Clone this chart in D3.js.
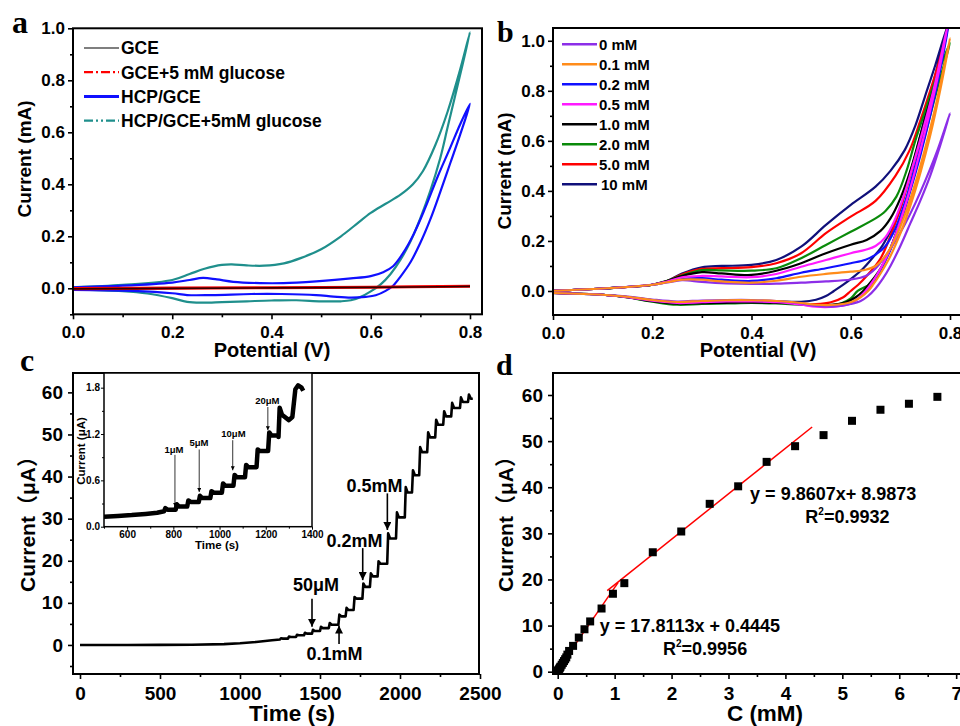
<!DOCTYPE html>
<html>
<head>
<meta charset="utf-8">
<script src="https://cdn.jsdelivr.net/npm/d3@7"></script>
<style>
  body { margin: 0; background: #fff; }
  svg text { font-family: "Liberation Sans", Arial, "Noto Sans CJK SC", sans-serif; font-weight: bold; fill: #000; }
  .letter { font-family: "Liberation Serif", "Times New Roman", serif !important; }
</style>
</head>
<body>
<svg id="fig" width="960" height="726"></svg>
<script>
// ---------- panel a: CV loops, [potential V, current mA] ----------
const gceLoop = [[0,-0.002],[0.2,0],[0.4,0.002],[0.6,0.004],[0.8,0.007],[0.6,0.003],[0.4,0.001],[0.2,-0.001],[0,-0.003]];
const gceGlucoseLoop = [[0,-0.001],[0.2,0.001],[0.4,0.002],[0.6,0.004],[0.8,0.008],[0.6,0.004],[0.4,0.002],[0.2,0],[0,-0.002]];
const hcpLoop = [[0,0.004],[0.1,0.01],[0.2,0.022],[0.235,0.032],[0.262,0.04],[0.29,0.034],[0.323,0.025],[0.377,0.02],[0.424,0.02],[0.49,0.027],[0.56,0.038],[0.6,0.047],[0.625,0.062],[0.645,0.085],[0.665,0.135],[0.687,0.21],[0.71,0.31],[0.735,0.43],[0.76,0.54],[0.78,0.63],[0.8,0.71],
  [0.78,0.59],[0.76,0.48],[0.74,0.37],[0.72,0.265],[0.7,0.175],[0.68,0.1],[0.66,0.045],[0.645,0.01],[0.63,-0.01],[0.61,-0.027],[0.59,-0.033],[0.56,-0.036],[0.525,-0.032],[0.49,-0.026],[0.42,-0.022],[0.36,-0.022],[0.28,-0.026],[0.23,-0.026],[0.2,-0.019],[0.12,-0.01],[0,-0.006]];
const hcpGlucoseLoop = [[0,0.004],[0.1,0.013],[0.2,0.032],[0.235,0.055],[0.265,0.075],[0.3,0.09],[0.32,0.092],[0.35,0.088],[0.385,0.087],[0.425,0.096],[0.46,0.117],[0.5,0.15],[0.54,0.2],[0.57,0.245],[0.6,0.29],[0.63,0.325],[0.66,0.36],[0.685,0.4],[0.705,0.45],[0.73,0.55],[0.755,0.68],[0.78,0.84],[0.8,0.985],
  [0.785,0.86],[0.77,0.74],[0.755,0.62],[0.74,0.5],[0.72,0.375],[0.7,0.27],[0.68,0.18],[0.66,0.11],[0.64,0.055],[0.62,0.015],[0.6,-0.012],[0.58,-0.033],[0.56,-0.046],[0.54,-0.05],[0.5,-0.05],[0.45,-0.046],[0.4,-0.047],[0.35,-0.05],[0.3,-0.053],[0.26,-0.055],[0.23,-0.052],[0.2,-0.038],[0.15,-0.02],[0.1,-0.011],[0,-0.004]];

// ---------- panel b: CV loops at each glucose concentration ----------
const bLabels = ['0 mM','0.1 mM','0.2 mM','0.5 mM','1.0 mM','2.0 mM','5.0 mM','10 mM'];
const bColors = ['#8c2ee8','#ff8c1a','#1010ff','#ff1aff','#000000','#0a8a0a','#ff0000','#10107a'];
const b0 = [[0,0.001],[0.1,0.01],[0.2,0.025],[0.23,0.034],[0.26,0.043],[0.3,0.036],[0.35,0.03],[0.4,0.028],[0.45,0.029],[0.5,0.033],[0.55,0.038],[0.6,0.046],[0.63,0.06],[0.65,0.09],[0.67,0.14],[0.69,0.2],[0.71,0.27],[0.73,0.35],[0.75,0.44],[0.775,0.564],[0.8,0.71],
  [0.78,0.58],[0.76,0.46],[0.74,0.36],[0.72,0.27],[0.7,0.18],[0.68,0.1],[0.665,0.05],[0.65,0.01],[0.635,-0.02],[0.62,-0.04],[0.6,-0.052],[0.57,-0.062],[0.53,-0.06],[0.5,-0.05],[0.45,-0.04],[0.4,-0.036],[0.35,-0.036],[0.3,-0.038],[0.25,-0.042],[0.2,-0.034],[0.15,-0.022],[0.1,-0.015],[0,-0.008]];
const b01 = [[0,0.001],[0.1,0.01],[0.2,0.025],[0.23,0.035],[0.26,0.045],[0.3,0.045],[0.34,0.038],[0.4,0.033],[0.45,0.041],[0.5,0.057],[0.55,0.068],[0.6,0.077],[0.63,0.085],[0.65,0.1],[0.67,0.14],[0.69,0.21],[0.71,0.31],[0.73,0.43],[0.75,0.57],[0.77,0.73],[0.8,1.01],
  [0.78,0.8],[0.76,0.62],[0.74,0.47],[0.72,0.34],[0.7,0.23],[0.68,0.14],[0.66,0.07],[0.645,0.025],[0.635,0],[0.62,-0.025],[0.6,-0.045],[0.57,-0.055],[0.53,-0.055],[0.5,-0.048],[0.45,-0.04],[0.4,-0.037],[0.35,-0.037],[0.3,-0.04],[0.25,-0.044],[0.2,-0.036],[0.15,-0.023],[0.1,-0.015],[0,-0.008]];
const b02 = [[0,0.001],[0.1,0.01],[0.2,0.025],[0.23,0.036],[0.26,0.048],[0.3,0.051],[0.34,0.045],[0.4,0.04],[0.45,0.051],[0.5,0.073],[0.55,0.091],[0.6,0.111],[0.63,0.125],[0.65,0.145],[0.67,0.18],[0.69,0.25],[0.71,0.36],[0.73,0.5],[0.75,0.64],[0.77,0.8],[0.797,1.06],
  [0.78,0.88],[0.76,0.7],[0.74,0.54],[0.72,0.4],[0.7,0.27],[0.68,0.165],[0.66,0.085],[0.645,0.035],[0.632,0],[0.615,-0.03],[0.6,-0.048],[0.57,-0.058],[0.53,-0.058],[0.5,-0.05],[0.45,-0.042],[0.4,-0.04],[0.35,-0.04],[0.3,-0.043],[0.25,-0.046],[0.2,-0.037],[0.15,-0.024],[0.1,-0.015],[0,-0.008]];
const b05 = [[0,0.001],[0.1,0.01],[0.2,0.025],[0.23,0.038],[0.26,0.055],[0.3,0.06],[0.34,0.058],[0.4,0.055],[0.45,0.068],[0.5,0.097],[0.55,0.124],[0.6,0.151],[0.63,0.165],[0.65,0.18],[0.67,0.215],[0.69,0.29],[0.71,0.4],[0.725,0.5],[0.745,0.64],[0.77,0.83],[0.795,1.06],
  [0.78,0.9],[0.76,0.72],[0.74,0.56],[0.72,0.41],[0.7,0.28],[0.68,0.17],[0.66,0.09],[0.645,0.04],[0.63,0],[0.615,-0.03],[0.6,-0.05],[0.57,-0.062],[0.53,-0.063],[0.5,-0.055],[0.45,-0.045],[0.4,-0.042],[0.35,-0.042],[0.3,-0.045],[0.25,-0.048],[0.2,-0.039],[0.15,-0.025],[0.1,-0.015],[0,-0.008]];
const b10 = [[0,0.001],[0.1,0.01],[0.2,0.025],[0.23,0.04],[0.26,0.06],[0.3,0.075],[0.34,0.07],[0.4,0.064],[0.45,0.081],[0.5,0.111],[0.55,0.151],[0.6,0.185],[0.632,0.204],[0.66,0.24],[0.68,0.29],[0.7,0.37],[0.72,0.48],[0.74,0.62],[0.76,0.76],[0.78,0.9],[0.795,1.06],
  [0.78,0.89],[0.76,0.72],[0.74,0.56],[0.72,0.41],[0.7,0.28],[0.68,0.17],[0.66,0.09],[0.64,0.035],[0.625,0],[0.61,-0.025],[0.59,-0.045],[0.56,-0.055],[0.52,-0.056],[0.48,-0.05],[0.43,-0.047],[0.38,-0.046],[0.33,-0.048],[0.28,-0.05],[0.24,-0.05],[0.2,-0.041],[0.15,-0.025],[0.1,-0.015],[0,-0.008]];
const b20 = [[0,0.001],[0.1,0.01],[0.2,0.025],[0.23,0.041],[0.26,0.062],[0.3,0.083],[0.34,0.082],[0.4,0.081],[0.45,0.091],[0.5,0.131],[0.55,0.184],[0.6,0.237],[0.65,0.29],[0.67,0.32],[0.692,0.377],[0.713,0.484],[0.73,0.6],[0.75,0.72],[0.77,0.84],[0.8,0.99],
  [0.78,0.85],[0.76,0.7],[0.74,0.55],[0.72,0.41],[0.7,0.28],[0.68,0.17],[0.66,0.085],[0.64,0.03],[0.614,0],[0.6,-0.03],[0.58,-0.05],[0.55,-0.058],[0.5,-0.055],[0.45,-0.05],[0.4,-0.048],[0.35,-0.05],[0.3,-0.052],[0.25,-0.055],[0.2,-0.043],[0.15,-0.026],[0.1,-0.015],[0,-0.008]];
const b50 = [[0,0.001],[0.1,0.01],[0.2,0.025],[0.23,0.04],[0.26,0.066],[0.3,0.088],[0.34,0.091],[0.4,0.095],[0.45,0.111],[0.5,0.151],[0.55,0.231],[0.6,0.297],[0.65,0.36],[0.69,0.46],[0.719,0.564],[0.74,0.68],[0.76,0.8],[0.78,0.93],[0.797,1.06],
  [0.78,0.91],[0.76,0.75],[0.74,0.6],[0.72,0.46],[0.7,0.33],[0.68,0.22],[0.66,0.13],[0.632,0.06],[0.615,0.025],[0.6,0],[0.585,-0.025],[0.56,-0.045],[0.53,-0.052],[0.5,-0.05],[0.45,-0.044],[0.4,-0.042],[0.35,-0.043],[0.3,-0.045],[0.25,-0.048],[0.2,-0.039],[0.15,-0.025],[0.1,-0.015],[0,-0.008]];
const b100 = [[0,0.001],[0.1,0.01],[0.2,0.025],[0.23,0.04],[0.26,0.07],[0.3,0.095],[0.34,0.1],[0.4,0.104],[0.45,0.124],[0.5,0.177],[0.55,0.264],[0.6,0.344],[0.65,0.417],[0.68,0.48],[0.709,0.564],[0.73,0.66],[0.75,0.78],[0.77,0.9],[0.795,1.06],
  [0.77,0.86],[0.75,0.7],[0.733,0.564],[0.715,0.44],[0.7,0.33],[0.68,0.24],[0.66,0.17],[0.645,0.135],[0.625,0.09],[0.605,0.055],[0.585,0.025],[0.566,0],[0.55,-0.02],[0.53,-0.035],[0.5,-0.043],[0.45,-0.041],[0.4,-0.04],[0.35,-0.04],[0.3,-0.043],[0.25,-0.046],[0.2,-0.037],[0.15,-0.024],[0.1,-0.015],[0,-0.008]];
const bLoops = [b0, b01, b02, b05, b10, b20, b50, b100];

// ---------- panel c: amperometric response, time s / current uA ----------
const cBaseT = [0, 300, 500, 700, 900, 1000, 1100, 1200, 1250];
const cBaseI = [0, 0, 0.02, 0.06, 0.2, 0.4, 0.7, 1.1, 1.3];
const cStepT = [1250,1300,1350,1400,1450,1500,1555,1615,1660,1710,1765,1812,1860,1920,1975,2030,2075,2120,2170,2220,2270,2320,2375,2425];
const cStepPeak = [1.6,2.0,2.4,2.9,3.6,4.3,5.2,7.2,8.8,11.4,14.6,17.0,19.9,26.5,31.5,37.5,41.5,47.0,50.5,53.5,55.5,57.5,58.8,59.5];
const cStepLow = [1.5,1.9,2.3,2.7,3.3,4.0,4.8,6.8,8.3,11.0,13.8,16.3,19.3,25.3,30.3,36.2,40.3,45.8,49.3,52.3,54.3,56.3,57.7,58.5];
const cEndT = 2455;

// inset
const insetBaseT = [500, 560, 620, 680, 730, 760];
const insetBaseI = [0.13, 0.14, 0.15, 0.165, 0.18, 0.2];
const insetStepT = [760, 810, 860, 910, 960, 1010, 1060, 1110, 1160, 1210];
const insetStepPeak = [0.24, 0.29, 0.34, 0.4, 0.46, 0.56, 0.67, 0.8, 1.0, 1.22];
const insetStepLow = [0.22, 0.26, 0.32, 0.37, 0.44, 0.53, 0.64, 0.77, 0.98, 1.18];
const insetTailT = [1255, 1260, 1270, 1300, 1315, 1328, 1340, 1355, 1362];
const insetTailI = [1.16, 1.54, 1.45, 1.38, 1.42, 1.78, 1.83, 1.8, 1.76];

// ---------- panel d: calibration ----------
const dConc = [0.005,0.01,0.02,0.03,0.04,0.05,0.07,0.09,0.11,0.13,0.15,0.17,0.2,0.27,0.37,0.47,0.57,0.77,0.97,1.17,1.67,2.17,2.67,3.17,3.67,4.17,4.67,5.17,5.67,6.17,6.67];
const dCurrent = [0.2,0.3,0.5,0.7,0.9,1.1,1.5,1.9,2.3,2.7,3.1,3.7,4.5,5.6,7.4,9.2,10.9,13.7,16.9,19.2,25.9,30.4,36.4,40.2,45.5,48.9,51.3,54.4,56.8,58.1,59.6];
const fitLowX = [-0.06, 1.06], fitLowCoef = [17.8113, 0.4445];
const fitHighX = [0.87, 4.47], fitHighCoef = [9.8607, 8.9873];

// ---------- drawing ----------
const svg = d3.select('#fig');
const defs = svg.append('defs');

const ax = d3.scaleLinear().domain([0, 0.8242]).range([73, 482]);
const ay = d3.scaleLinear().domain([-0.1, 1.0]).range([314.3, 28.3]);
const bx = d3.scaleLinear().domain([0, 0.8262]).range([553, 963]);
const by = d3.scaleLinear().domain([-0.096, 1.051]).range([315, 28]);
const cx = d3.scaleLinear().domain([-43.75, 2493.75]).range([73, 479]);
const cy = d3.scaleLinear().domain([-6.9, 64.6]).range([674, 373]);
const ix = d3.scaleLinear().domain([500, 1400]).range([104, 312]);
const iy = d3.scaleLinear().domain([0, 1.99]).range([526.7, 373]);
const dx = d3.scaleLinear().domain([-0.083, 7.12]).range([553, 963]);
const dy = d3.scaleLinear().domain([-0.5, 64.77]).range([674, 373]);

function clip(id, x, y) {
  defs.append('clipPath').attr('id', id).append('rect')
    .attr('x', x.range()[0]).attr('y', y.range()[1])
    .attr('width', x.range()[1] - x.range()[0]).attr('height', y.range()[0] - y.range()[1]);
}
clip('clipA', ax, ay); clip('clipB', bx, by); clip('clipC', cx, cy); clip('clipI', ix, iy); clip('clipD', dx, dy);

defs.append('marker').attr('id', 'arrow').attr('viewBox', '0 0 10 10').attr('refX', 10).attr('refY', 5)
  .attr('markerWidth', 5).attr('markerHeight', 5).attr('orient', 'auto-start-reverse')
  .append('path').attr('d', 'M0,0L10,5L0,10Z').attr('fill', '#000');
defs.append('marker').attr('id', 'arrowSmall').attr('viewBox', '0 0 10 10').attr('refX', 10).attr('refY', 5)
  .attr('markerWidth', 5).attr('markerHeight', 5).attr('orient', 'auto-start-reverse')
  .append('path').attr('d', 'M0,0L10,5L0,10Z').attr('fill', '#000');

function axes(x, y, o) {
  const [l, r] = x.range(), [b, t] = y.range();
  const g = svg.append('g');
  const styleAxis = sel => {
    sel.select('.domain').remove();
    sel.selectAll('line').attr('stroke', '#000').attr('stroke-width', o.tw || 1.6);
    sel.selectAll('text').attr('font-size', o.fs);
  };
  g.append('g').attr('transform', `translate(0,${b})`)
    .call(d3.axisBottom(x).tickValues(o.xMinor).tickSize(o.minor).tickFormat('')).call(styleAxis);
  g.append('g').attr('transform', `translate(0,${b})`)
    .call(d3.axisBottom(x).tickValues(o.xMajor).tickSize(o.major).tickPadding(o.xPad).tickFormat(o.xFmt)).call(styleAxis);
  g.append('g').attr('transform', `translate(${l},0)`)
    .call(d3.axisLeft(y).tickValues(o.yMinor).tickSize(o.minor).tickFormat('')).call(styleAxis);
  g.append('g').attr('transform', `translate(${l},0)`)
    .call(d3.axisLeft(y).tickValues(o.yMajor).tickSize(o.major).tickPadding(o.yPad).tickFormat(o.yFmt)).call(styleAxis);
  g.append('rect').attr('x', l).attr('y', t).attr('width', r - l).attr('height', b - t)
    .attr('fill', 'none').attr('stroke', '#000').attr('stroke-width', o.fw || 2);
}

function label(text, x, y, size, rotate) {
  const t = svg.append('text').attr('font-size', size).attr('text-anchor', 'middle').text(text);
  if (rotate) t.attr('transform', `translate(${x},${y}) rotate(-90)`);
  else t.attr('x', x).attr('y', y);
  return t;
}

const f1 = d3.format('.1f');
const cvLine = (x, y) => d3.line().x(d => x(d[0])).y(d => y(d[1])).curve(d3.curveCatmullRom.alpha(0.5));

// ---- panel a ----
const gA = svg.append('g').attr('clip-path', 'url(#clipA)');
const lineA = cvLine(ax, ay);
gA.append('path').datum(hcpGlucoseLoop).attr('d', lineA).attr('fill', 'none').attr('stroke', '#1f8f8c').attr('stroke-width', 2.2);
gA.append('path').datum(hcpLoop).attr('d', lineA).attr('fill', 'none').attr('stroke', '#1010ff').attr('stroke-width', 2.2);
gA.append('path').datum(gceGlucoseLoop).attr('d', lineA).attr('fill', 'none').attr('stroke', '#ff0000').attr('stroke-width', 3);
gA.append('path').datum(gceLoop).attr('d', lineA).attr('fill', 'none').attr('stroke', '#300000').attr('stroke-width', 1.4);
axes(ax, ay, {xMajor: [0, 0.2, 0.4, 0.6, 0.8], xMinor: [0.1, 0.3, 0.5, 0.7], yMajor: [0, 0.2, 0.4, 0.6, 0.8, 1.0], yMinor: [-0.1, 0.1, 0.3, 0.5, 0.7, 0.9],
  xFmt: f1, yFmt: f1, fs: 17, major: 5, minor: 3, xPad: 7, yPad: 3});
label('Potential (V)', 272, 357, 20);
label('Current (mA)', 31, 159, 19, true);

const aLegend = [
  {name: 'GCE', color: '#555', width: 1.3, dash: null},
  {name: 'GCE+5 mM glucose', color: '#ff0000', width: 2.2, dash: '9,3,2,3'},
  {name: 'HCP/GCE', color: '#1010ff', width: 3, dash: null},
  {name: 'HCP/GCE+5mM glucose', color: '#1f8f8c', width: 2.2, dash: '9,3,2,3,2,3'}
];
aLegend.forEach((d, i) => {
  const yy = 48 + i * 24.2;
  svg.append('line').attr('x1', 84).attr('x2', 119).attr('y1', yy).attr('y2', yy)
    .attr('stroke', d.color).attr('stroke-width', d.width).attr('stroke-dasharray', d.dash);
  svg.append('text').attr('x', 121).attr('y', yy).attr('dy', '0.36em').attr('font-size', 17.5).text(d.name);
});

// ---- panel b ----
const gB = svg.append('g').attr('clip-path', 'url(#clipB)');
const lineB = cvLine(bx, by);
[7, 6, 5, 4, 2, 3, 0, 1].forEach(i => {
  gB.append('path').datum(bLoops[i]).attr('d', lineB).attr('fill', 'none')
    .attr('stroke', bColors[i]).attr('stroke-width', 2.2);
});
axes(bx, by, {xMajor: [0, 0.2, 0.4, 0.6, 0.8], xMinor: [0.1, 0.3, 0.5, 0.7], yMajor: [0, 0.2, 0.4, 0.6, 0.8, 1.0], yMinor: [0.1, 0.3, 0.5, 0.7, 0.9],
  xFmt: f1, yFmt: f1, fs: 17, major: 5, minor: 3, xPad: 7, yPad: 3});
label('Potential (V)', 758, 357, 20);
label('Current (mA)', 511, 171, 19, true);
bLabels.forEach((name, i) => {
  const yy = 44.3 + i * 20;
  svg.append('line').attr('x1', 562).attr('x2', 597).attr('y1', yy).attr('y2', yy)
    .attr('stroke', bColors[i]).attr('stroke-width', 2.4);
  svg.append('text').attr('x', i === 7 ? 601 : 599).attr('y', yy).attr('dy', '0.36em').attr('font-size', 15).text(name);
});

// ---- panel c ----
const cPoints = cBaseT.map((t, i) => [t, cBaseI[i]]);
let prev = cBaseI[cBaseI.length - 1];
cStepT.forEach((t, k) => {
  cPoints.push([t, prev], [t + 6, cStepPeak[k]], [t + 18, cStepLow[k]]);
  const next = k < cStepT.length - 1 ? cStepT[k + 1] : cEndT;
  cPoints.push([next, cStepLow[k]]);
  prev = cStepLow[k];
});
svg.append('g').attr('clip-path', 'url(#clipC)').append('path').datum(cPoints)
  .attr('d', d3.line().x(d => cx(d[0])).y(d => cy(d[1])))
  .attr('fill', 'none').attr('stroke', '#000').attr('stroke-width', 2.6).attr('stroke-linejoin', 'round');
axes(cx, cy, {xMajor: [0, 500, 1000, 1500, 2000, 2500], xMinor: [250, 750, 1250, 1750, 2250], yMajor: [0, 10, 20, 30, 40, 50, 60], yMinor: [-5, 5, 15, 25, 35, 45, 55],
  xFmt: d3.format('d'), yFmt: d3.format('d'), fs: 19, major: 5, minor: 3, xPad: 8, yPad: 5});
label('Time (s)', 292, 721, 22.5);
label('Current（μA）', 35, 519, 21, true);

const cNotes = [
  {text: '50μM', tx: 1475, ty: 12.8, at: 1450, from: 11.0, to: 4.3},
  {text: '0.1mM', tx: 1590, ty: -3.6, at: 1619, from: 0.2, to: 4.6},
  {text: '0.2mM', tx: 1716, ty: 23.3, at: 1767, from: 23.0, to: 15.4},
  {text: '0.5mM', tx: 1840, ty: 36.3, at: 1921, from: 36.0, to: 27.3}
];
cNotes.forEach(n => {
  svg.append('text').attr('x', cx(n.tx)).attr('y', cy(n.ty)).attr('text-anchor', 'middle').attr('font-size', 18).text(n.text);
  svg.append('line').attr('x1', cx(n.at)).attr('x2', cx(n.at)).attr('y1', cy(n.from)).attr('y2', cy(n.to))
    .attr('stroke', '#000').attr('stroke-width', 1.6).attr('marker-end', 'url(#arrow)');
});

// inset
svg.append('rect').attr('x', 104).attr('y', 373).attr('width', 208).attr('height', 153.7).attr('fill', '#fff');
const iPoints = insetBaseT.map((t, i) => [t, insetBaseI[i]]);
let iPrev = insetBaseI[insetBaseI.length - 1];
insetStepT.forEach((t, k) => {
  iPoints.push([t, iPrev], [t + 5, insetStepPeak[k]], [t + 15, insetStepLow[k]]);
  const next = k < insetStepT.length - 1 ? insetStepT[k + 1] : insetTailT[0];
  iPoints.push([next, insetStepLow[k]]);
  iPrev = insetStepLow[k];
});
insetTailT.forEach((t, i) => iPoints.push([t, insetTailI[i]]));
svg.append('g').attr('clip-path', 'url(#clipI)').append('path').datum(iPoints)
  .attr('d', d3.line().x(d => ix(d[0])).y(d => iy(d[1])))
  .attr('fill', 'none').attr('stroke', '#000').attr('stroke-width', 4.5).attr('stroke-linejoin', 'round');
axes(ix, iy, {xMajor: [600, 800, 1000, 1200, 1400], xMinor: [500, 700, 900, 1100, 1300], yMajor: [0, 0.6, 1.2, 1.8], yMinor: [0.3, 0.9, 1.5],
  xFmt: d3.format('d'), yFmt: f1, fs: 10, major: 3, minor: 2, xPad: 1.5, yPad: 1, tw: 1, fw: 1.5});
label('Time (s)', 217, 549, 11.5);
label('Current (μA)', 85, 451, 11.5, true);
const iNotes = [
  {text: '1μM', tx: 803, ty: 0.955, at: 807, from: 0.93, to: 0.26},
  {text: '5μM', tx: 911, ty: 1.045, at: 912, from: 1.0, to: 0.45},
  {text: '10μM', tx: 1060, ty: 1.16, at: 1057, from: 1.12, to: 0.73},
  {text: '20μM', tx: 1207, ty: 1.59, at: 1209, from: 1.55, to: 1.25}
];
iNotes.forEach(n => {
  svg.append('text').attr('x', ix(n.tx)).attr('y', iy(n.ty)).attr('text-anchor', 'middle').attr('font-size', 9.5).text(n.text);
  svg.append('line').attr('x1', ix(n.at)).attr('x2', ix(n.at)).attr('y1', iy(n.from)).attr('y2', iy(n.to))
    .attr('stroke', '#000').attr('stroke-width', 0.8).attr('marker-end', 'url(#arrowSmall)');
});

// ---- panel d ----
const gD = svg.append('g').attr('clip-path', 'url(#clipD)');
[[fitLowX, fitLowCoef], [fitHighX, fitHighCoef]].forEach(([xs, c]) => {
  gD.append('line').attr('x1', dx(xs[0])).attr('x2', dx(xs[1]))
    .attr('y1', dy(c[0] * xs[0] + c[1])).attr('y2', dy(c[0] * xs[1] + c[1]))
    .attr('stroke', '#ff0000').attr('stroke-width', 1.5);
});
gD.selectAll('rect.pt').data(dConc).join('rect').attr('class', 'pt')
  .attr('x', d => dx(d) - 4).attr('y', (d, i) => dy(dCurrent[i]) - 4)
  .attr('width', 8).attr('height', 8).attr('fill', '#000');
axes(dx, dy, {xMajor: [0, 1, 2, 3, 4, 5, 6, 7], xMinor: [0.5, 1.5, 2.5, 3.5, 4.5, 5.5, 6.5], yMajor: [0, 10, 20, 30, 40, 50, 60], yMinor: [5, 15, 25, 35, 45, 55],
  xFmt: d3.format('d'), yFmt: d3.format('d'), fs: 19, major: 5, minor: 3, xPad: 8, yPad: 5});
label('C (mM)', 765, 721, 22.5);
label('Current（μA）', 513, 519, 21, true);

function fitText(x, y, eq, r2) {
  svg.append('text').attr('x', dx(x[0])).attr('y', dy(y[0])).attr('font-size', 18).text(eq);
  const t = svg.append('text').attr('x', dx(x[1])).attr('y', dy(y[1])).attr('font-size', 18);
  t.append('tspan').text('R');
  t.append('tspan').attr('font-size', 10).attr('dy', -8).text('2');
  t.append('tspan').attr('dy', 8).text(r2);
}
fitText([3.38, 4.35], [37.2, 32.2], 'y = 9.8607x+ 8.9873', '=0.9932');
fitText([0.74, 1.85], [8.6, 3.6], 'y = 17.8113x + 0.4445', '=0.9956');

// ---- panel letters ----
[['a', 12, 33, 32], ['b', 497, 42, 30], ['c', 20, 371, 32], ['d', 496, 375, 30]].forEach(([s, x, y, fs]) => {
  svg.append('text').attr('class', 'letter').attr('x', x).attr('y', y).attr('font-size', fs).text(s);
});
</script>
</body>
</html>
